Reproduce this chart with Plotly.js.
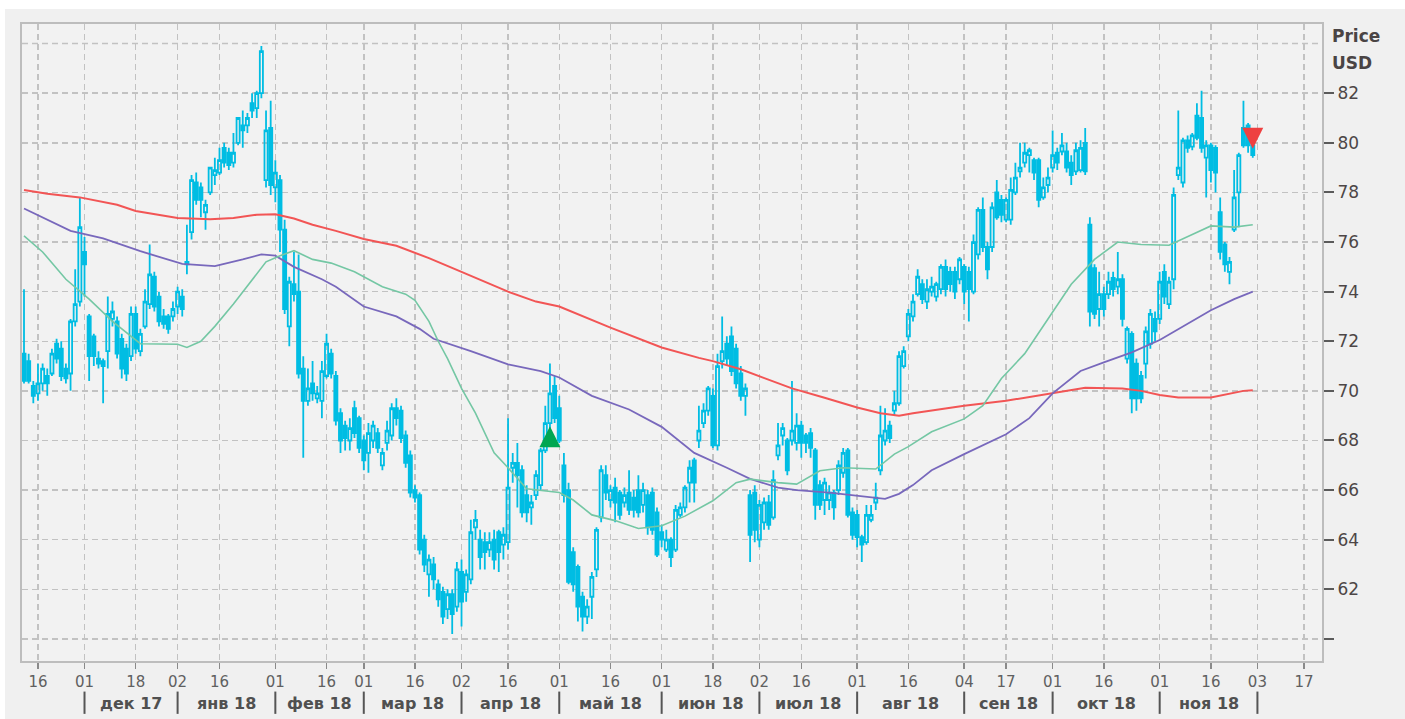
<!DOCTYPE html>
<html>
<head>
<meta charset="utf-8">
<script src="https://cdn.plot.ly/plotly-3.0.1.min.js"></script>
<style>
  html, body { margin: 0; padding: 0; background: #ffffff; }
  #chart { position: absolute; left: 5px; top: 9px; width: 1400px; height: 710px; }
</style>
</head>
<body>
<div id="chart"></div>
<script>
// ---------- trading calendar (categories) ----------
const months = ['2017-11','2017-12','2018-01','2018-02','2018-03','2018-04','2018-05','2018-06','2018-07','2018-08','2018-09','2018-10','2018-11'];
const monthDays = [
  [13,14,15,16,17,20,21,22,24,27,28,29,30],
  [1,4,5,6,7,8,11,12,13,14,15,18,19,20,21,22,26,27,28,29],
  [2,3,4,5,8,9,10,11,12,16,17,18,19,22,23,24,25,26,29,30,31],
  [1,2,5,6,7,8,9,12,13,14,15,16,20,21,22,23,26,27,28],
  [1,2,5,6,7,8,9,12,13,14,15,16,19,20,21,22,23,26,27,28,29],
  [2,3,4,5,6,9,10,11,12,13,16,17,18,19,20,23,24,25,26,27,30],
  [1,2,3,4,7,8,9,10,11,14,15,16,17,18,21,22,23,24,25,29,30,31],
  [1,4,5,6,7,8,11,12,13,14,15,18,19,20,21,22,25,26,27,28,29],
  [2,3,5,6,9,10,11,12,13,16,17,18,19,20,23,24,25,26,27,30,31],
  [1,2,3,6,7,8,9,10,13,14,15,16,17,20,21,22,23,24,27,28,29,30,31],
  [4,5,6,7,10,11,12,13,14,17,18,19,20,21,24,25,26,27,28],
  [1,2,3,4,5,8,9,10,11,12,15,16,17,18,19,22,23,24,25,26,29,30,31],
  [1,2,5,6,7,8,9,12,13,14,15,16,19,20,21,23,26,27,28,29,30]
];
const holidays = ['2017-11-23','2017-12-25','2018-01-01','2018-01-15','2018-02-19','2018-03-30','2018-05-28','2018-07-04','2018-09-03','2018-11-22'];

// ---------- OHLC (USD) ----------
const open = [
  71.5,71.2,70.2,69.9,70.3,70.6,70.7,71.9,71.7,70.9,70.7,72.8,73.6,
  75.6,73.0,72.2,71.3,71.2,71.6,72.9,72.8,72.1,71.7,71.4,73.1,71.6,72.6,73.5,74.6,73.8,73.0,73.0,73.0,
  73.4,73.8,75.1,76.4,78.4,78.2,77.2,78.0,78.7,78.8,79.8,79.6,79.2,80.0,80.7,80.7,81.6,81.4,82.0,78.5,80.6,
  78.2,78.5,76.5,72.6,74.3,74.0,70.9,69.6,70.3,69.7,69.6,70.6,71.5,70.6,69.1,68.6,68.0,69.3,68.9,
  68.0,67.5,68.0,68.3,67.0,67.9,68.2,69.3,69.2,68.2,67.4,66.0,65.8,64.0,62.6,63.0,62.2,61.9,61.2,61.8,61.3,
  62.7,61.9,62.4,64.5,64.0,63.9,63.6,64.0,64.3,63.8,63.9,66.9,67.1,66.8,65.8,65.3,65.8,66.2,67.6,68.7,70.2,
  69.3,67.0,66.0,63.5,62.9,61.7,60.9,61.7,62.8,64.9,66.6,65.6,66.1,65.9,65.5,65.9,65.7,66.0,65.4,65.8,65.9,65.1,
  64.3,63.6,64.0,63.6,65.0,65.3,66.3,67.2,68.0,68.7,69.2,69.8,67.8,71.2,71.9,72.2,71.7,70.7,69.8,65.8,65.9,
  64.0,64.7,65.5,64.9,67.4,68.2,68.0,68.0,67.9,68.6,68.2,68.3,67.6,66.2,65.6,65.6,65.9,66.0,66.7,67.6,65.1,
  65.0,64.1,63.9,64.8,65.5,66.8,68.0,68.6,69.2,69.5,71.0,72.2,73.0,73.9,74.3,73.6,74.0,73.8,74.1,75.0,74.8,74.8,74.5,
  75.0,74.8,74.0,75.5,77.3,75.8,75.8,78.0,77.7,76.9,76.9,78.0,78.85,79.2,79.5,79.3,79.3,77.8,78.3,
  79.0,79.6,79.65,79.65,79.2,78.85,78.9,80.0,76.7,74.95,73.3,73.9,73.9,74.55,74.2,74.5,71.3,72.3,71.1,70.6,71.1,71.9,72.9,
  72.9,74.8,73.5,74.5,78.7,78.4,80.1,79.85,81.1,81.0,79.4,79.9,79.8,77.2,75.9,74.8,76.5,78.0,80.6,80.7,79.9
];
const high = [
  74.1,71.5,70.4,71.1,71.1,70.9,71.7,72.1,72.0,71.1,72.9,74.9,77.8,
  76.2,73.1,72.3,71.6,71.3,73.8,73.6,73.0,72.3,71.9,73.4,73.4,72.5,74.1,75.9,74.8,74.0,73.3,73.1,73.6,
  74.2,74.1,76.7,78.7,78.8,78.4,77.7,79.0,79.4,79.8,80.0,79.8,80.4,81.0,81.3,81.2,82.0,82.1,83.9,81.3,81.7,
  79.3,78.7,76.9,74.6,75.6,75.5,71.4,70.9,71.2,70.2,71.2,72.3,71.7,70.8,69.3,68.8,68.9,69.6,69.0,
  68.2,68.7,68.8,68.5,67.7,68.8,69.5,69.7,69.4,68.4,67.6,66.2,65.9,64.2,63.4,63.3,62.4,62.1,62.0,62.0,63.1,
  63.2,62.8,64.8,65.2,64.4,64.3,64.3,64.4,64.4,64.5,68.9,67.5,67.9,67.0,66.2,65.8,66.8,67.7,69.4,71.1,70.6,
  69.8,67.5,66.3,63.7,63.0,61.9,61.6,62.7,64.5,67.0,67.0,66.2,66.5,66.0,66.1,66.8,66.0,66.6,66.3,66.0,66.1,65.3,
  64.6,64.4,64.1,65.4,65.5,66.2,67.2,67.3,69.4,69.5,70.2,70.1,71.5,73.0,72.2,72.6,71.9,71.0,70.3,66.0,66.2,
  65.6,65.7,65.8,66.8,68.7,68.7,68.1,70.4,69.1,68.8,68.3,68.5,67.7,66.4,66.5,66.2,66.0,67.2,67.7,67.7,65.3,
  65.2,64.2,65.4,65.4,66.3,69.4,69.3,68.8,70.0,71.6,71.8,73.3,73.9,74.9,74.5,74.5,74.6,74.4,75.1,75.3,75.0,75.0,75.4,
  75.1,75.0,76.3,77.4,77.8,76.0,77.6,78.5,77.9,77.8,78.6,79.2,80.0,80.0,79.8,79.4,79.4,78.6,79.0,
  80.5,79.8,80.4,80.0,79.5,80.0,80.1,80.6,77.0,75.1,74.8,74.2,74.8,74.8,75.6,74.7,72.6,72.4,71.3,70.8,72.6,73.3,73.2,
  74.8,75.1,74.6,78.2,81.3,80.2,80.3,80.4,81.6,82.1,80.1,80.0,79.9,77.8,76.0,75.4,78.9,79.6,81.7,80.8,80.0
];
const low = [
  70.3,70.3,69.5,69.6,70.0,69.8,70.6,71.1,70.4,70.3,70.0,72.6,73.4,
  73.8,70.4,71.0,70.9,69.5,70.9,72.6,71.3,70.5,70.4,71.2,71.5,71.4,72.5,73.3,73.2,72.6,72.5,72.3,72.8,
  73.1,73.0,74.7,76.1,77.5,77.0,76.5,77.9,78.3,78.7,79.0,78.9,79.0,79.9,79.8,80.4,81.0,81.0,81.8,78.2,77.9,
  77.6,75.6,73.1,71.8,73.6,70.5,67.3,69.4,69.6,69.5,68.9,70.5,70.5,68.6,67.5,67.6,67.6,68.1,67.5,
  66.8,66.7,67.7,67.5,66.8,67.6,68.0,68.6,67.9,66.9,65.7,65.5,63.4,62.7,61.7,62.0,61.3,60.6,60.8,60.2,61.1,
  60.5,61.5,62.2,64.0,62.8,62.8,63.3,62.8,62.7,63.2,63.6,66.3,65.3,64.9,64.7,64.6,65.6,66.0,67.5,68.5,68.7,
  67.9,65.5,62.2,61.9,60.7,60.3,60.6,60.8,62.5,64.7,65.6,65.3,64.7,64.8,65.3,65.0,64.9,64.9,65.1,64.2,64.2,63.3,
  63.7,63.5,62.9,63.5,64.9,65.1,65.5,65.5,67.7,68.5,69.0,67.7,67.6,70.9,71.0,70.6,70.1,69.6,69.0,63.1,63.9,
  63.7,64.4,64.4,64.8,67.2,67.8,66.6,67.8,67.6,67.3,67.5,67.3,64.8,65.2,65.0,65.2,64.8,65.8,66.5,64.9,64.0,
  63.7,63.1,63.8,64.7,65.2,66.6,67.8,67.9,69.0,69.4,70.9,72.0,72.8,73.8,73.5,73.3,73.8,73.6,73.9,73.8,74.0,73.7,74.3,
  73.5,72.8,73.9,75.3,75.6,74.5,75.6,76.9,76.8,76.8,76.7,77.9,78.6,79.0,78.8,78.5,77.4,77.7,78.0,
  78.8,78.9,79.5,78.8,78.3,78.7,78.8,78.7,72.6,72.9,72.6,73.0,73.7,73.8,73.9,72.6,71.1,69.1,69.2,69.5,70.5,71.7,72.0,
  72.7,73.5,73.3,74.1,78.5,78.2,79.6,79.7,80.1,79.6,77.8,78.4,78.0,75.3,74.8,74.3,76.4,76.6,79.8,79.6,79.4
];
const close = [
  70.4,70.4,69.8,70.3,70.9,70.3,71.5,71.3,70.6,70.5,72.8,73.5,76.6,
  75.1,71.4,71.4,71.1,71.0,73.1,73.2,71.5,70.9,70.7,73.1,71.7,72.3,73.6,74.7,73.4,72.8,72.7,72.5,73.3,
  74.0,73.3,75.2,78.5,77.7,77.7,77.5,79.0,78.9,79.3,79.2,79.1,79.6,81.0,80.5,81.0,81.3,82.0,83.7,80.5,78.3,
  78.8,76.5,73.3,74.4,73.9,70.7,69.6,70.1,69.9,69.9,70.8,71.9,70.7,68.8,68.0,68.1,68.5,68.3,67.7,
  67.2,68.3,68.6,67.7,67.5,68.4,69.3,68.9,68.1,67.1,65.9,65.7,63.6,63.0,63.2,62.4,61.6,60.9,61.8,61.0,62.8,
  61.5,62.6,64.3,64.8,63.3,63.5,63.9,63.2,63.5,64.2,66.1,67.1,66.6,65.1,65.1,65.5,66.6,67.6,68.7,69.9,68.9,
  68.0,65.8,62.3,62.2,61.3,60.9,61.3,62.5,64.4,66.8,65.9,66.0,65.5,65.0,65.8,65.2,65.2,65.1,66.0,64.5,64.4,63.4,
  64.0,64.0,63.3,65.2,65.3,66.1,66.9,66.3,68.4,69.2,70.1,67.8,71.0,71.6,71.3,70.8,70.3,69.8,70.1,64.2,64.4,
  65.4,65.5,64.6,66.4,67.8,68.5,66.8,68.4,68.6,67.9,67.9,67.7,65.4,65.4,66.3,65.9,65.3,67.0,67.5,65.0,64.2,
  64.1,63.8,65.0,65.0,65.7,68.2,68.4,68.1,69.5,71.4,71.6,73.1,73.6,74.6,73.7,74.1,74.2,74.3,75.0,74.1,74.3,74.0,75.3,
  74.0,74.1,76.0,77.3,75.8,74.9,77.4,77.0,77.1,77.7,78.1,78.6,79.0,79.6,79.7,78.8,77.7,78.2,78.6,
  79.5,79.2,79.9,79.0,78.7,79.7,79.8,78.85,73.2,73.1,73.9,73.3,74.4,74.1,74.5,72.9,72.5,69.7,69.7,69.7,72.4,73.1,72.4,
  74.4,73.8,74.4,77.9,79.0,80.1,79.8,80.3,80.2,79.8,79.9,78.9,78.8,75.6,75.1,75.2,77.8,79.5,79.9,79.9,79.5
];

// ---------- moving averages (read at sample dates) ----------
const ma200Dates = ['2017-11-13','2017-11-20','2017-11-30','2017-12-12','2017-12-18','2018-01-02','2018-01-11','2018-01-19','2018-01-26','2018-02-01','2018-02-07','2018-02-13','2018-02-21','2018-03-01','2018-03-12','2018-03-21','2018-04-02','2018-04-16','2018-04-24','2018-05-01','2018-05-16','2018-06-01','2018-06-13','2018-06-18','2018-06-26','2018-07-02','2018-07-12','2018-07-23','2018-08-01','2018-08-08','2018-08-14','2018-08-17','2018-08-23','2018-09-04','2018-09-17','2018-10-01','2018-10-10','2018-10-22','2018-10-26','2018-11-01','2018-11-07','2018-11-16','2018-11-23','2018-11-28','2018-11-30'];
const ma200 = [78.1,77.95,77.8,77.5,77.25,76.97,76.92,76.97,77.1,77.12,76.95,76.7,76.45,76.12,75.85,75.35,74.8,74.0,73.6,73.4,72.55,71.75,71.33,71.2,70.87,70.6,70.1,69.72,69.33,69.1,69.0,69.1,69.22,69.4,69.6,69.9,70.13,70.1,70.0,69.83,69.73,69.73,69.87,70.0,70.03];

const ma100Dates = ['2017-11-13','2017-11-20','2017-11-28','2017-12-07','2017-12-19','2018-01-03','2018-01-12','2018-01-23','2018-01-29','2018-02-01','2018-02-07','2018-02-15','2018-02-21','2018-03-01','2018-03-12','2018-03-19','2018-03-22','2018-04-04','2018-04-16','2018-04-25','2018-05-01','2018-05-10','2018-05-22','2018-06-01','2018-06-12','2018-06-21','2018-06-28','2018-07-09','2018-07-13','2018-07-24','2018-08-02','2018-08-09','2018-08-14','2018-08-17','2018-08-23','2018-09-04','2018-09-17','2018-09-24','2018-10-01','2018-10-09','2018-10-16','2018-10-24','2018-11-01','2018-11-09','2018-11-16','2018-11-26','2018-11-30'];
const ma100 = [77.35,76.9,76.45,76.15,75.63,75.12,75.03,75.3,75.5,75.45,75.0,74.5,74.2,73.4,73.0,72.5,72.1,71.6,71.07,70.8,70.54,69.8,69.25,68.55,67.5,66.9,66.45,66.1,66.0,65.9,65.77,65.65,65.85,66.2,66.8,67.45,68.25,68.9,69.9,70.8,71.15,71.55,72.05,72.7,73.25,73.7,74.0];

const ma50Dates = ['2017-11-13','2017-11-17','2017-11-27','2017-12-04','2017-12-11','2017-12-19','2018-01-02','2018-01-04','2018-01-09','2018-01-12','2018-01-19','2018-01-25','2018-01-30','2018-02-02','2018-02-07','2018-02-13','2018-02-20','2018-02-27','2018-03-07','2018-03-14','2018-03-16','2018-03-21','2018-03-23','2018-03-27','2018-04-02','2018-04-05','2018-04-11','2018-04-16','2018-04-20','2018-05-01','2018-05-04','2018-05-10','2018-05-17','2018-05-24','2018-06-01','2018-06-08','2018-06-18','2018-06-25','2018-06-28','2018-07-09','2018-07-13','2018-07-20','2018-07-27','2018-08-07','2018-08-13','2018-08-16','2018-08-23','2018-09-04','2018-09-10','2018-09-14','2018-09-21','2018-09-28','2018-10-05','2018-10-12','2018-10-19','2018-10-26','2018-11-05','2018-11-12','2018-11-16','2018-11-26','2018-11-30'];
const ma50 = [76.25,75.6,74.5,73.7,72.8,71.9,71.88,71.75,72.0,72.6,73.5,74.5,75.2,75.45,75.65,75.3,75.15,74.8,74.2,73.9,73.65,72.8,72.0,71.3,70.1,69.1,67.5,66.9,66.05,65.9,65.6,65.0,64.77,64.45,64.56,64.95,65.57,66.3,66.44,66.3,66.24,66.78,66.9,66.85,67.45,67.75,68.35,68.87,69.4,70.5,71.5,72.9,74.3,75.3,76.0,75.9,75.87,76.3,76.65,76.6,76.7];

// ---------- signals ----------
const buyDates = ['2018-04-27'];
const buyPrice = [68.57];
const sellDates = ['2018-11-30'];
const sellPrice = [79.76];

// ---------- axis labels ----------
const tickDates = ['2017-11-16','2017-12-01','2017-12-18','2018-01-02','2018-01-16','2018-02-01','2018-02-16','2018-03-01','2018-03-16','2018-04-02','2018-04-16','2018-05-01','2018-05-16','2018-06-01','2018-06-18','2018-07-02','2018-07-16','2018-08-01','2018-08-16','2018-09-04','2018-09-17','2018-10-01','2018-10-16','2018-11-01','2018-11-16','2018-12-03','2018-12-17'];
const tickLabels = ['16','01','18','02','16','01','16','01','16','02','16','01','16','01','18','02','16','01','16','04','17','01','16','01','16','03','17'];
const monthStarts = ['2017-12-01','2018-01-02','2018-02-01','2018-03-01','2018-04-02','2018-05-01','2018-06-01','2018-07-02','2018-08-01','2018-09-04','2018-10-01','2018-11-01','2018-12-03'];
const monthLabels = ['дек 17','янв 18','фев 18','мар 18','апр 18','май 18','июн 18','июл 18','авг 18','сен 18','окт 18','ноя 18'];
const priceTicks = [60,62,64,66,68,70,72,74,76,78,80,82];
const priceTickText = ['','62','64','66','68','70','72','74','76','78','80','82'];
const topGridPrice = 84;

// ---------- build ----------
const pad = n => String(n).padStart(2, '0');
const dates = [];
months.forEach((m, k) => monthDays[k].forEach(d => dates.push(m + '-' + pad(d))));
const noon = d => d + ' 12:00';

const CYAN = '#00bde3';
const FONT = 'DejaVu Sans, Verdana, sans-serif';
const GRID = '#c2c2c2';

const traces = [
  { type: 'scatter', mode: 'lines', x: ma200Dates.map(noon), y: ma200,
    line: { color: '#f25555', width: 2 }, hoverinfo: 'skip' },
  { type: 'scatter', mode: 'lines', x: ma100Dates.map(noon), y: ma100,
    line: { color: '#7868bc', width: 1.8 }, hoverinfo: 'skip' },
  { type: 'scatter', mode: 'lines', x: ma50Dates.map(noon), y: ma50,
    line: { color: '#74c7a4', width: 1.6 }, hoverinfo: 'skip' },
  { type: 'candlestick', x: dates.map(noon), open: open, high: high, low: low, close: close,
    increasing: { line: { color: CYAN, width: 1.8 }, fillcolor: 'rgba(0,0,0,0)' },
    decreasing: { line: { color: CYAN, width: 1.8 }, fillcolor: CYAN },
    whiskerwidth: 0, hoverinfo: 'skip' },
  { type: 'scatter', mode: 'markers', x: buyDates.map(noon), y: buyPrice,
    marker: { symbol: 'arrow-up', size: 21, color: '#00a651', line: { width: 0 } }, hoverinfo: 'skip' },
  { type: 'scatter', mode: 'markers', x: sellDates.map(noon), y: sellPrice,
    marker: { symbol: 'arrow-down', size: 21, color: '#ee4040', line: { width: 0 } }, hoverinfo: 'skip' }
];

const idxOf = d => { const i = dates.indexOf(d); return i < 0 ? dates.length : i; };
const toStr = ms => new Date(ms).toISOString().slice(0, 16).replace('T', ' ');
const annotations = [];
const shapes = [];
const sepY0 = -0.048, sepY1 = -0.083, labY = -0.066;
monthStarts.forEach(d => {
  shapes.push({ type: 'line', xref: 'x', yref: 'paper', x0: noon(d), x1: noon(d), y0: sepY0, y1: sepY1,
    line: { color: '#555555', width: 2 } });
});
// top gridline (no tick mark / label in the original)
shapes.push({ type: 'line', xref: 'paper', yref: 'y', x0: 0, x1: 1, y0: topGridPrice, y1: topGridPrice,
  layer: 'below', line: { color: GRID, width: 1.5, dash: '6px,4px' } });

monthLabels.forEach((lab, k) => {
  const a = idxOf(monthStarts[k]), b = idxOf(monthStarts[k + 1]);
  const mid = (a + b) / 2;
  const base = Math.floor(mid);
  const ms = Date.parse(dates[base] + 'T12:00:00Z') + (mid - base) * 86400000;
  annotations.push({ xref: 'x', yref: 'paper', x: toStr(ms), y: labY, xanchor: 'center', yanchor: 'middle',
    text: '<b>' + lab + '</b>', showarrow: false, font: { family: FONT, size: 16, color: '#505050' } });
});
annotations.push({ xref: 'paper', yref: 'paper', x: 1.0065, y: 0.981, xanchor: 'left', yanchor: 'middle',
  text: '<b>Price</b>', showarrow: false, font: { family: FONT, size: 17, color: '#4a4444' } });
annotations.push({ xref: 'paper', yref: 'paper', x: 1.0065, y: 0.939, xanchor: 'left', yanchor: 'middle',
  text: '<b>USD</b>', showarrow: false, font: { family: FONT, size: 17, color: '#4a4444' } });

const gridStyle = { showgrid: true, gridcolor: GRID, gridwidth: 1.5, griddash: '6px,4px' };

const layout = {
  width: 1400, height: 710,
  margin: { l: 17, r: 83, t: 15, b: 58 },
  paper_bgcolor: '#f0f0f0', plot_bgcolor: '#f2f2f2',
  showlegend: false, hovermode: false,
  boxgap: 0.05,
  font: { family: FONT, color: '#555555' },
  xaxis: Object.assign({
    type: 'date',
    range: ['2017-11-13 01:40', '2018-12-21 09:00'],
    rangebreaks: [{ pattern: 'day of week', bounds: [6, 1] }, { values: holidays }],
    rangeslider: { visible: false },
    tickmode: 'array', tickvals: tickDates.map(noon), ticktext: tickLabels,
    ticks: 'outside', ticklen: 6, tickwidth: 1.5, tickcolor: '#8a8a8a',
    tickfont: { family: FONT, size: 15, color: '#606060' },
    showline: true, mirror: true, linecolor: '#bdbdbd', linewidth: 2, zeroline: false
  }, gridStyle),
  yaxis: Object.assign({
    side: 'right', range: [59.11, 84.79],
    tickmode: 'array', tickvals: priceTicks, ticktext: priceTickText,
    ticks: 'outside', ticklen: 10, tickwidth: 2, tickcolor: '#5a5a5a',
    tickfont: { family: FONT, size: 17, color: '#4d4646' },
    showline: true, mirror: true, linecolor: '#bdbdbd', linewidth: 2, zeroline: false
  }, gridStyle),
  annotations: annotations,
  shapes: shapes
};

Plotly.newPlot('chart', traces, layout, { staticPlot: true, displayModeBar: false });
</script>
</body>
</html>
